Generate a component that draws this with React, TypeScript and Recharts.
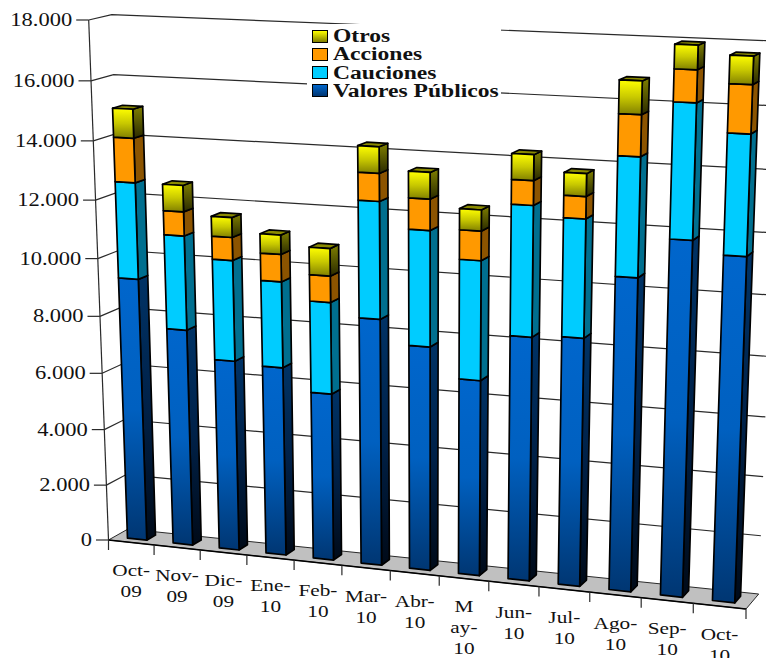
import { Bar, BarChart, CartesianGrid, Legend, XAxis, YAxis } from "recharts";

const W = 766;
const H = 658;

const categories = ["Oct-\n09", "Nov-\n09", "Dic-\n09", "Ene-\n10", "Feb-\n10", "Mar-\n10", "Abr-\n10", "M\nay-\n10", "Jun-\n10", "Jul-\n10", "Ago-\n10", "Sep-\n10", "Oct-\n10"];
const valoresPublicos = [9280, 7640, 6700, 6610, 5840, 8530, 7730, 6730, 8320, 8420, 10520, 11840, 11440];
const cauciones = [3300, 3240, 3460, 2940, 3135, 3930, 3880, 4000, 4320, 3890, 3870, 4320, 3840];
const acciones = [1500, 820, 780, 930, 890, 920, 1030, 970, 800, 720, 1320, 1020, 1520];
const otros = [970, 890, 670, 650, 925, 870, 870, 690, 830, 730, 1050, 755, 870];
const yTicks = [0, 2000, 4000, 6000, 8000, 10000, 12000, 14000, 16000, 18000];

const data = categories.map((c, i) => ({
  name: c,
  "Valores Públicos": valoresPublicos[i],
  Cauciones: cauciones[i],
  Acciones: acciones[i],
  Otros: otros[i],
}));

const colors: Record<string, { id: string; front: string[]; side: string[] }> = {
  "Valores Públicos": { id: "val", front: ["#0066cc", "#0060c0", "#003672"], side: ["#003366", "#002148", "#000a18"] },
  Cauciones: { id: "cau", front: ["#00ccff", "#00ccff", "#00ccff"], side: ["#006f8f", "#006f8f", "#006f8f"] },
  Acciones: { id: "acc", front: ["#ff9900", "#ff9900", "#ff9900"], side: ["#8c5400", "#8c5400", "#8c5400"] },
  Otros: { id: "otr", front: ["#ffff00", "#c8c800", "#807f00"], side: ["#808000", "#555500", "#2a2a00"] },
};
const legendOrder = ["Otros", "Acciones", "Cauciones", "Valores Públicos"];

type Pt = [number, number];

// unit square -> quad, corners: (0,0) (1,0) (1,1) (0,1)
function homography(p0: Pt, p1: Pt, p2: Pt, p3: Pt) {
  const dx1 = p1[0] - p2[0], dx2 = p3[0] - p2[0], sx = p0[0] - p1[0] + p2[0] - p3[0];
  const dy1 = p1[1] - p2[1], dy2 = p3[1] - p2[1], sy = p0[1] - p1[1] + p2[1] - p3[1];
  const det = dx1 * dy2 - dx2 * dy1;
  const g = (sx * dy2 - dx2 * sy) / det;
  const h = (dx1 * sy - sx * dy1) / det;
  const a = p1[0] - p0[0] + g * p1[0], b = p3[0] - p0[0] + h * p3[0];
  const d = p1[1] - p0[1] + g * p1[1], e = p3[1] - p0[1] + h * p3[1];
  return (u: number, v: number): Pt => {
    const w = g * u + h * v + 1;
    return [(a * u + b * v + p0[0]) / w, (d * u + e * v + p0[1]) / w];
  };
}

const frontPlane = homography([108.5, 540], [746, 609], [766, 48], [88.7, 20]);
const backPlane = homography([128, 529], [758.7, 594], [779.5, 41.2], [111.7, 14.7]);

function project(u: number, v: number, d: number): Pt {
  const f = frontPlane(u, v);
  const b = backPlane(u, v);
  return [f[0] + (b[0] - f[0]) * d, f[1] + (b[1] - f[1]) * d];
}

const pts = (list: Pt[]) => list.map((p) => `${p[0].toFixed(2)},${p[1].toFixed(2)}`).join(" ");

const D1 = 0.3;
const D2 = 0.75;

function Block(props: any) {
  const { x, y, width, height, series } = props;
  if (height == null || height <= 0) return null;
  const u1 = x / W;
  const u2 = (x + width) / W;
  const vTop = 1 - y / H;
  const vBot = 1 - (y + height) / H;
  const c = colors[series];
  const front = [project(u1, vBot, D1), project(u2, vBot, D1), project(u2, vTop, D1), project(u1, vTop, D1)];
  const side = [project(u2, vBot, D1), project(u2, vBot, D2), project(u2, vTop, D2), project(u2, vTop, D1)];
  const top = [project(u1, vTop, D1), project(u2, vTop, D1), project(u2, vTop, D2), project(u1, vTop, D2)];
  const line = { stroke: "#000", strokeWidth: 1.7, strokeLinejoin: "round" as const };
  return (
    <g>
      <polygon points={pts(side)} fill={`url(#side-${c.id})`} {...line} />
      {series === "Otros" && <polygon points={pts(top)} fill="#8a8a00" {...line} />}
      <polygon points={pts(front)} fill={`url(#front-${c.id})`} {...line} />
    </g>
  );
}

function GridLine(props: any) {
  const v = 1 - props.y1 / H;
  const line = { stroke: "#2a2a2a", strokeWidth: 1.2, fill: "none" };
  const wall = <polyline points={pts([project(0, v, 0), project(0, v, 1), project(1, v, 1)])} {...line} />;
  if (Math.abs(v) > 0.001) return <g>{wall}</g>;
  return (
    <g>
      <polygon points={pts([project(0, 0, 0), project(1, 0, 0), project(1, 0, 1), project(0, 0, 1)])} fill="#c0c0c0" stroke="#2a2a2a" strokeWidth={1} />
      <polyline points={pts([project(0, 0, 0), project(1, 0, 0)])} stroke="#000" strokeWidth={1.5} fill="none" />
      <polyline points={pts([project(0, 0, 0), project(0, 1, 0)])} {...line} />
    </g>
  );
}

function YTick(props: any) {
  const value = props.payload.value as number;
  const [x, y] = project(0, value / 18000, 0);
  const label = value.toLocaleString("en-US").replace(",", ".");
  return (
    <g>
      <line x1={x - 12.5} y1={y} x2={x} y2={y} stroke="#2a2a2a" strokeWidth={1.2} />
      <text transform={`translate(${x - 16.5} ${y}) scale(1.25 1)`} textAnchor="end" dy="0.34em" fontFamily="Liberation Serif" fontSize={18} fill="#111">
        {label}
      </text>
    </g>
  );
}

function XTick(props: any) {
  const { x, index, payload } = props;
  const band = 1 / categories.length;
  const u = x / W;
  const lines = String(payload.value).split("\n");
  const [cx, cy] = project(u, 0, 0);
  const left = project(u - band / 2, 0, 0);
  const right = project(u + band / 2, 0, 0);
  return (
    <g>
      <line x1={left[0]} y1={left[1]} x2={left[0]} y2={left[1] + 10} stroke="#2a2a2a" strokeWidth={1.2} />
      {index === categories.length - 1 && <line x1={right[0]} y1={right[1]} x2={right[0]} y2={right[1] + 10} stroke="#2a2a2a" strokeWidth={1.2} />}
      {lines.map((t, i) => (
        <text key={i} transform={`translate(${cx} ${cy + 28 + i * 21}) scale(1.25 1)`} textAnchor="middle" dy="0.34em" fontFamily="Liberation Serif" fontSize={17} fill="#111">
          {t}
        </text>
      ))}
    </g>
  );
}

function LegendBox() {
  return (
    <div style={{ background: "#fff", width: 194, height: 76, paddingTop: 3, boxSizing: "border-box", fontFamily: "Liberation Serif", fontWeight: "bold", fontSize: 18, color: "#111" }}>
      {legendOrder.map((name) => (
        <div key={name} style={{ height: 18.3, lineHeight: "18.3px", position: "relative", whiteSpace: "nowrap" }}>
          <span style={{ position: "absolute", left: 5, top: 2.5, width: 14, height: 11, border: "1.5px solid #000", background: `linear-gradient(${colors[name].front[0]}, ${colors[name].front[2]})` }} />
          <span style={{ position: "absolute", left: 26, display: "inline-block", transform: "scaleX(1.31)", transformOrigin: "left center" }}>{name}</span>
        </div>
      ))}
    </div>
  );
}

const seriesOrder = ["Valores Públicos", "Cauciones", "Acciones", "Otros"];

export default function App() {
  return (
    <div style={{ position: "absolute", left: 0, top: 0, width: W, height: H, overflow: "hidden", background: "#fff" }}>
      {/* axes need a non-zero size to draw, the -1 margins cancel it so the plot fills the whole page */}
      <BarChart width={W} height={H} data={data} margin={{ top: 0, right: 0, bottom: -1, left: -1 }} barCategoryGap="29%">
        <defs>
          {seriesOrder.map((s) => (
            <g key={s}>
              <linearGradient id={`front-${colors[s].id}`} x1="0" y1="0" x2="0" y2="1">
                {colors[s].front.map((col, i) => <stop key={i} offset={i / 2} stopColor={col} />)}
              </linearGradient>
              <linearGradient id={`side-${colors[s].id}`} x1="0" y1="0" x2="0" y2="1">
                {colors[s].side.map((col, i) => <stop key={i} offset={i / 2} stopColor={col} />)}
              </linearGradient>
            </g>
          ))}
        </defs>
        <CartesianGrid vertical={false} horizontal={(p: any) => <GridLine key={p.key ?? p.index} {...p} />} />
        <XAxis dataKey="name" height={1} interval={0} axisLine={false} tickLine={false} tick={(p: any) => <XTick {...p} />} />
        <YAxis domain={[0, 18000]} ticks={yTicks} width={1} interval={0} axisLine={false} tickLine={false} tick={(p: any) => <YTick {...p} />} />
        <Legend layout="vertical" align="center" verticalAlign="middle" wrapperStyle={{ left: 307, top: 24, width: 194 }} content={() => <LegendBox />} />
        {seriesOrder.map((s) => (
          <Bar key={s} dataKey={s} stackId="a" isAnimationActive={false} shape={(p: any) => <Block {...p} series={s} />} />
        ))}
      </BarChart>
    </div>
  );
}
